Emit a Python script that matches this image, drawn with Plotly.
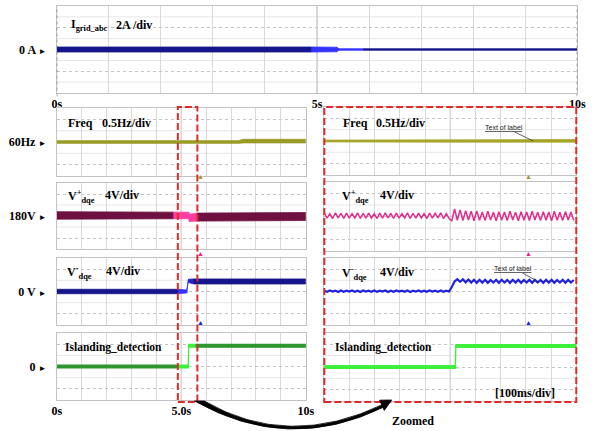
import plotly.graph_objects as go

W, H = 596, 431


def fx(px):
    return px / W


def fy(py):
    return 1 - py / H


# ---------------- recorded signals ----------------
# Grid current I_grid_abc [A]: key times, centre level, half-width of the noise band
IGRID_T = [0.0, 4.9, 5.38, 5.42, 5.9, 10.0]
IGRID_MID = [0.0, 0.0, 0.0, 0.0, 0.0, 0.0]
IGRID_SPREAD = [0.46, 0.46, 0.42, 0.14, 0.14, 0.14]

# Frequency [Hz], full 10 s record
FREQ_T = [0.0, 7.3, 7.5, 10.0]
FREQ_MID = [60.0, 60.0, 60.04, 60.04]
FREQ_SPREAD = [0.06, 0.06, 0.08, 0.08]

# Positive-sequence voltage V+dqe [V]
VPOS_T = [0.0, 4.7, 5.3, 5.33, 5.65, 10.0]
VPOS_MID = [180.2, 180.2, 180.2, 179.3, 179.6, 179.8]
VPOS_SPREAD = [1.35, 1.2, 1.2, 1.3, 1.45, 1.45]

# Negative-sequence voltage V-dqe [V]
VNEG_T = [0.0, 4.9, 5.22, 5.29, 5.5, 10.0]
VNEG_MID = [0.0, 0.0, 0.0, 3.8, 3.6, 3.6]
VNEG_SPREAD = [0.8, 0.8, 0.5, 0.6, 0.9, 0.9]

# Islanding detection flag
ISL_T = [0.0, 4.85, 5.28, 5.3, 5.6, 10.0]
ISL_MID = [0.0, 0.0, 0.0, 1.0, 1.0, 1.0]
ISL_SPREAD = [0.07, 0.07, 0.07, 0.07, 0.07, 0.07]

# ---- zoomed window 4.8 s .. 5.8 s ----
ZOOM_T0 = 4.8
ZOOM_DT = 0.011

FREQ_Z_T = [4.8, 5.35, 5.8]
FREQ_Z_MID = [60.0, 60.0, 60.01]
FREQ_Z_SPREAD = [0.04, 0.05, 0.06]

VPOS_Z = [
    181.2, 179.4, 181.0, 179.3, 181.3, 179.5, 181.1, 179.3, 181.2, 179.4,
    181.0, 179.5, 181.3, 179.3, 181.1, 179.4, 181.2, 179.5, 181.0, 179.3,
    181.2, 179.4, 181.3, 179.5, 181.1, 179.3, 181.2, 179.4, 181.0, 179.5,
    181.3, 179.3, 181.1, 179.4, 181.2, 179.5, 181.0, 179.3, 181.2, 179.4,
    181.1, 179.5, 181.3, 179.3, 181.0, 179.4,
    178.4, 182.6, 178.7, 182.3, 178.6, 182.0, 178.8, 181.8, 178.5, 181.9,
    178.7, 181.6, 178.6, 181.8, 178.8, 181.5, 178.5, 181.7, 178.7, 181.6,
    178.6, 181.8, 178.8, 181.5, 178.5, 181.7, 178.7, 181.6, 178.6, 181.8,
    178.8, 181.5, 178.6, 181.7, 178.7, 181.6, 178.5, 181.8, 178.7, 181.5,
    178.6, 181.7, 178.8, 181.6, 178.7,
]

VNEG_Z = [
    0.3, -0.1, 0.35, -0.05, 0.3, -0.15, 0.35, -0.1, 0.3, -0.05,
    0.35, -0.1, 0.3, -0.15, 0.35, -0.05, 0.3, -0.1, 0.35, -0.1,
    0.3, -0.05, 0.35, -0.15, 0.3, -0.1, 0.35, -0.05, 0.3, -0.1,
    0.35, -0.15, 0.3, -0.05, 0.35, -0.1, 0.3, -0.1, 0.35, -0.05,
    0.3, -0.1, 0.35, -0.1, 0.3, 0.0,
    1.6, 3.6, 4.4, 3.5, 4.4, 3.3, 4.3, 3.2, 4.2, 3.1,
    4.2, 3.2, 4.2, 3.1, 4.1, 3.2, 4.2, 3.1, 4.2, 3.2,
    4.1, 3.1, 4.2, 3.2, 4.2, 3.1, 4.1, 3.2, 4.2, 3.1,
    4.2, 3.2, 4.1, 3.1, 4.2, 3.2, 4.2, 3.1, 4.1, 3.2,
    4.2, 3.1, 4.2, 3.2, 4.1,
]

ISL_Z_T = [4.8, 5.32, 5.322, 5.8]
ISL_Z_MID = [0.0, 0.0, 1.0, 1.0]
ISL_Z_SPREAD = [0.06, 0.06, 0.06, 0.06]

# ---------------- styling ----------------
NAVY = '#16168c'
BLUE_BRIGHT = '#3434ff'
BLUE_MID = '#2424d0'
BLUE_Z = '#2222dd'
OLIVE = '#9a9a26'
OLIVE_Z = '#a6a62c'
MAROON = '#6e1040'
PINK = '#ff3ca0'
PINK_Z = '#e42c8a'
GREEN_D = '#2e962e'
GREEN_B = '#3cf03c'
RED = '#e02a2a'
GRID = '#d9d9d9'
GRID_DOT = '#c4c4c4'
GRID_MINOR = '#e6e6e6'
FRAME = '#c2c2c2'
CENTRE = '#a4a4a4'

SERIF = 'Liberation Serif, Times New Roman, serif'
AXFONT = dict(family=SERIF, size=12, color='black', weight='bold')
TITLEFONT = dict(family=SERIF, size=12, color='black', weight='bold')

IGRID_COL = [NAVY, BLUE_BRIGHT, BLUE_BRIGHT, BLUE_BRIGHT, NAVY]
FREQ_COL = [OLIVE, OLIVE, OLIVE]
VPOS_COL = [MAROON, PINK, PINK, PINK, MAROON]
VNEG_COL = [NAVY, BLUE_BRIGHT, BLUE_BRIGHT, BLUE_MID, NAVY]
ISL_COL = [GREEN_D, GREEN_B, GREEN_B, GREEN_B, GREEN_D]

fig = go.Figure()
shapes = []


def add_band(t, mid, spread, colours, idx, stroke=0.8):
    """Noise envelope of a scope trace, drawn interval by interval."""
    sfx = '' if idx == 1 else str(idx)
    for i in range(len(t) - 1):
        c = colours[i]
        xs = [t[i], t[i + 1], t[i + 1], t[i], t[i]]
        ys = [mid[i] + spread[i], mid[i + 1] + spread[i + 1],
              mid[i + 1] - spread[i + 1], mid[i] - spread[i],
              mid[i] + spread[i]]
        fig.add_trace(go.Scatter(
            x=xs, y=ys, mode='lines', fill='toself', fillcolor=c,
            line=dict(color=c, width=stroke), xaxis='x' + sfx, yaxis='y' + sfx,
            hoverinfo='skip', showlegend=False))


def add_line(t, v, colour, width, idx):
    sfx = str(idx)
    fig.add_trace(go.Scatter(
        x=t, y=v, mode='lines', line=dict(color=colour, width=width),
        xaxis='x' + sfx, yaxis='y' + sfx, hoverinfo='skip', showlegend=False))


def make_axes(idx, xpx, ypx, xrange, xdiv, ycentre, ydiv, yhalf,
              ylabel=None, xlabels=None):
    sfx = '' if idx == 1 else str(idx)
    nx = round((xrange[1] - xrange[0]) / xdiv)
    xall = [round(xrange[0] + xdiv * i, 4) for i in range(nx + 1)]
    if xlabels:
        xmaj = [v for v in xall if v in xlabels]
        xtext = [xlabels[v] for v in xmaj]
    else:
        xmaj = xall
        xtext = None
    xmin = [v for v in xall if v not in xmaj]
    xa = dict(domain=[fx(xpx[0]), fx(xpx[1])], range=list(xrange),
              anchor='y' + sfx, tickmode='array', tickvals=xmaj,
              showticklabels=bool(xlabels), ticks='', showgrid=True,
              gridcolor=GRID, gridwidth=1, zeroline=False, showline=True,
              mirror=True, linecolor=FRAME, linewidth=1, tickfont=AXFONT,
              ticklabelstandoff=0, fixedrange=True,
              minor=dict(tickmode='array', tickvals=xmin, showgrid=True,
                         gridcolor=GRID, ticks=''))
    if xtext:
        xa['ticktext'] = xtext
    ya = dict(domain=[fy(ypx[1]), fy(ypx[0])],
              range=[ycentre - yhalf * ydiv, ycentre + yhalf * ydiv],
              anchor='x' + sfx, tickmode='array', tickvals=[ycentre],
              showticklabels=ylabel is not None, ticks='', showgrid=True,
              gridcolor=GRID_DOT, griddash='dot', zeroline=False,
              showline=True, mirror=True, linecolor=FRAME, linewidth=1,
              tickfont=AXFONT, ticklabelstandoff=7, fixedrange=True,
              minor=dict(tickmode='array',
                         tickvals=[ycentre - 2 * ydiv, ycentre + 2 * ydiv],
                         showgrid=True, gridcolor=GRID_DOT, griddash='dot',
                         ticks=''))
    if ylabel:
        ya['ticktext'] = [ylabel]
    fig.update_layout({'xaxis' + sfx: xa, 'yaxis' + sfx: ya})
    # faint solid division lines between the dotted ones
    for k in range(-yhalf + 1, yhalf):
        if k in (-2, 0, 2):
            continue
        yv = ycentre + ydiv * k
        shapes.append(dict(type='line', xref='x' + sfx + ' domain',
                           yref='y' + sfx, x0=0, x1=1, y0=yv, y1=yv,
                           layer='below', line=dict(color=GRID_MINOR, width=1)))


ARW = '<span style="font-size:8px">\u25ba</span>'
ISL_DIV = 0.54

LEFT_X = (53, 308)
RIGHT_X = (327, 585)

make_axes(1, (53, 586), (6, 93), (0, 10), 1, 0.0, 2.0, 4,
          ylabel='0 A ' + ARW, xlabels={0: '0s', 5: '5s', 10: '10s'})
make_axes(2, LEFT_X, (108, 176), (0, 10), 1, 60.0, 0.5, 3, ylabel='60Hz ' + ARW)
make_axes(3, LEFT_X, (183, 249), (0, 10), 1, 180.0, 4.0, 3, ylabel='180V ' + ARW)
make_axes(4, LEFT_X, (258, 325), (0, 10), 1, 0.0, 4.0, 3, ylabel='0 V ' + ARW)
make_axes(5, LEFT_X, (333, 400), (0, 10), 1, 0.0, ISL_DIV, 3, ylabel='0 ' + ARW,
          xlabels={0: '0s', 5: '5.0s', 10: '10s'})
make_axes(6, RIGHT_X, (107, 175), (4.8, 5.8), 0.1, 60.0, 0.5, 3)
make_axes(7, RIGHT_X, (182, 251), (4.8, 5.8), 0.1, 180.0, 4.0, 3)
make_axes(8, RIGHT_X, (258, 325), (4.8, 5.8), 0.1, 0.0, 4.0, 3)
make_axes(9, RIGHT_X, (333, 401), (4.8, 5.8), 0.1, 0.0, ISL_DIV, 3)

# full-record traces
add_band(IGRID_T, IGRID_MID, IGRID_SPREAD, IGRID_COL, 1)
add_band(FREQ_T, FREQ_MID, FREQ_SPREAD, FREQ_COL, 2)
add_band(VPOS_T, VPOS_MID, VPOS_SPREAD, VPOS_COL, 3)
add_band(VNEG_T, VNEG_MID, VNEG_SPREAD, VNEG_COL, 4)
add_band(ISL_T, ISL_MID, ISL_SPREAD, ISL_COL, 5, stroke=1.2)

# zoomed traces
zoom_t = [round(ZOOM_T0 + ZOOM_DT * k, 4) for k in range(len(VPOS_Z))]
add_band(FREQ_Z_T, FREQ_Z_MID, FREQ_Z_SPREAD, [OLIVE_Z, OLIVE_Z], 6)
add_line(zoom_t, VPOS_Z, PINK_Z, 1.5, 7)
add_line(zoom_t, VNEG_Z, BLUE_Z, 2.2, 8)
add_band(ISL_Z_T, ISL_Z_MID, ISL_Z_SPREAD, [GREEN_B, GREEN_B, GREEN_B], 9,
         stroke=1.4)

# ---------------- decorations ----------------
for idx, xc in [(1, 5.0), (2, 5.0), (3, 5.0), (4, 5.0), (5, 5.0),
                (6, 5.3), (7, 5.3), (8, 5.3), (9, 5.3)]:
    sfx = '' if idx == 1 else str(idx)
    shapes.append(dict(type='line', xref='x' + sfx, yref='y' + sfx + ' domain',
                       x0=xc, x1=xc, y0=0, y1=1, layer='below',
                       line=dict(color=CENTRE, width=1)))

# dashed edges of the current window
for xe in (0, 10):
    shapes.append(dict(type='line', xref='x', yref='y domain', x0=xe, x1=xe,
                       y0=-0.04, y1=1.0,
                       line=dict(color='#555555', width=1, dash='dot')))

# red zoom frames
for (x0, x1) in [(177, 197), (327, 585)]:
    shapes.append(dict(type='rect', xref='paper', yref='paper',
                       x0=fx(x0), x1=fx(x1), y0=fy(402), y1=fy(107),
                       line=dict(color=RED, width=2, dash='7px,3px')))


def pth(cmds):
    out = []
    for c in cmds:
        if isinstance(c, str):
            out.append(c)
        else:
            out.append('%.5f,%.5f' % (fx(c[0]), fy(c[1])))
    return ' '.join(out)


# curved arrow linking the full record to the zoomed view
shapes.append(dict(type='path', xref='paper', yref='paper',
                   path=pth(['M', (194, 401), 'Q', (290, 454), (388, 407),
                             'L', (388, 404), 'Q', (290, 450), (204, 401), 'Z']),
                   fillcolor='black', line=dict(color='black', width=0.8)))
shapes.append(dict(type='path', xref='paper', yref='paper',
                   path=pth(['M', (396, 400), 'L', (388.4, 410.4),
                             'L', (383.6, 400.2), 'Z']),
                   fillcolor='black', line=dict(color='black', width=0.8)))

ann = []


def text(t, x, y, size=12, anchor='left', font=None):
    f = dict(TITLEFONT) if font is None else dict(font)
    f['size'] = size
    ann.append(dict(text=t, x=fx(x), y=fy(y), xref='paper', yref='paper',
                    xanchor=anchor, yanchor='middle', showarrow=False, font=f))


# channel titles
text('I<sub>grid_abc</sub>', 66, 25)
text('2A /div', 112, 25)
text('Freq', 62, 123)
text('0.5Hz/div', 97, 123)
text('V<sup>+</sup><sub>dqe</sub>', 62, 196)
text('4V/div', 100, 195)
text('V<sup>-</sup><sub>dqe</sub>', 61, 272)
text('4V/div', 101, 271)
text('Islanding_detection', 59, 347, size=11.5)
text('Freq', 344, 123)
text('0.5Hz/div', 378, 123)
text('V<sup>+</sup><sub>dqe</sub>', 343, 196)
text('4V/div', 382, 195)
text('V<sup>-</sup><sub>dqe</sub>', 343, 273)
text('4V/div', 382, 272)
text('Islanding_detection', 336, 347, size=11.5)
text('[100ms/div]', 533, 393, anchor='center')
text('Zoomed', 418, 421, anchor='center')

# trigger markers below each channel
for xm in (195, 542):
    for ym, col in [(177, OLIVE), (253, '#e8208a'), (329, BLUE_Z)]:
        ann.append(dict(text='\u25b2', x=fx(xm), y=fy(ym), xref='paper',
                        yref='paper', showarrow=False,
                        font=dict(size=7, color=col)))

# cursor labels on the zoomed traces
LBLFONT = dict(family='Liberation Sans, Arial, sans-serif', size=7,
               color='#222222')
for (tx, ty, hx, hy) in [(512, 127, 541, 141), (521, 268, 545, 281)]:
    ann.append(dict(text='<u>Text of label</u>', x=fx(hx), y=fy(hy),
                    xref='paper', yref='paper', ax=tx - hx, ay=ty - hy,
                    showarrow=True, arrowhead=0, arrowwidth=0.8,
                    arrowcolor='#333333', font=LBLFONT))

fig.update_layout(width=W, height=H, margin=dict(l=0, r=0, t=0, b=0),
                  paper_bgcolor='white', plot_bgcolor='rgba(0,0,0,0)',
                  showlegend=False, shapes=shapes, annotations=ann)

fig.write_html('out.html')
